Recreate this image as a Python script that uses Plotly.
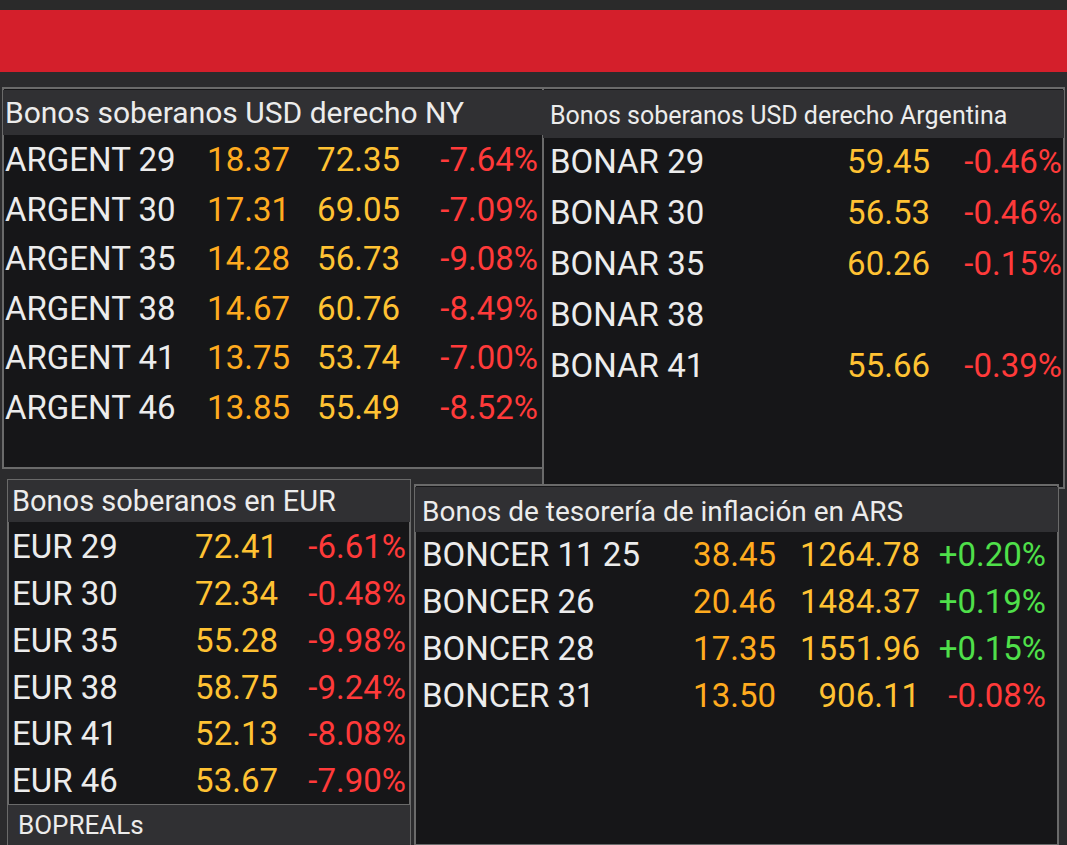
import plotly.graph_objects as go

ny_names = ["ARGENT 29","ARGENT 30","ARGENT 35","ARGENT 38","ARGENT 41","ARGENT 46"]
ny_yield = ["18.37","17.31","14.28","14.67","13.75","13.85"]
ny_price = ["72.35","69.05","56.73","60.76","53.74","55.49"]
ny_chg = ["-7.64%","-7.09%","-9.08%","-8.49%","-7.00%","-8.52%"]

ar_names = ["BONAR 29","BONAR 30","BONAR 35","BONAR 38","BONAR 41"]
ar_price = ["59.45","56.53","60.26","","55.66"]
ar_chg = ["-0.46%","-0.46%","-0.15%","","-0.39%"]

eur_names = ["EUR 29","EUR 30","EUR 35","EUR 38","EUR 41","EUR 46"]
eur_price = ["72.41","72.34","55.28","58.75","52.13","53.67"]
eur_chg = ["-6.61%","-0.48%","-9.98%","-9.24%","-8.08%","-7.90%"]

bc_names = ["BONCER 11 25","BONCER 26","BONCER 28","BONCER 31"]
bc_yield = ["38.45","20.46","17.35","13.50"]
bc_price = ["1264.78","1484.37","1551.96","906.11"]
bc_chg = ["+0.20%","+0.19%","+0.15%","-0.08%"]

headers = ["Bonos soberanos USD derecho NY","Bonos soberanos USD derecho Argentina",
           "Bonos soberanos en EUR","Bonos de tesorería de inflación en ARS","BOPREALs"]

W, H = 1067, 845
WHITE, ORANGE, YEL, RED, GREEN = "#ececec", "#ffab1f", "#ffc233", "#ff3a3a", "#4fe04a"
FONT = "Roboto"
DY = 5
fig = go.Figure()

shapes = [
    dict(type="rect", x0=0, x1=W, y0=0, y1=72, fillcolor="#d41f2b", line_width=0, layer="below"),
    dict(type="rect", x0=0, x1=W, y0=0, y1=10, fillcolor="#2a2a2a", line_width=0, layer="below"),
    dict(type="rect", x0=0, x1=W, y0=72, y1=H, fillcolor="#2b2b2d", line_width=0, layer="below"),
]
panels = [(3, 543, 88, 468), (543, 1064, 88, 488), (8, 410, 480, 805), (415, 1058, 485, 845), (8, 410, 805, 845)]
for x0, x1, y0, y1 in panels:
    shapes.append(dict(type="rect", x0=x0, x1=x1, y0=y0, y1=y1, fillcolor="#161618",
                       line=dict(color="#6a6a6a", width=2), layer="below"))
hdr = [(3, 543, 90, 135), (543, 1064, 90, 138), (8, 410, 480, 522), (415, 1058, 487, 532), (8, 410, 805, 845)]
for x0, x1, y0, y1 in hdr:
    shapes.append(dict(type="rect", x0=x0, x1=x1, y0=y0, y1=y1, fillcolor="#303033", line_width=0, layer="below"))

def col(xs, ys, texts, color, pos, size=33):
    fig.add_trace(go.Scatter(x=xs, y=[v + DY for v in ys], text=texts, mode="text", textposition=pos,
                             textfont=dict(family=FONT, size=size, color=color),
                             hoverinfo="skip", showlegend=False, cliponaxis=False))

hx = [5, 550, 12, 422, 18]
hy = [110, 113, 499, 509, 822]
hs = [30, 25, 29, 28, 26]
for i in range(5):
    col([hx[i]], [hy[i]], [headers[i]], WHITE, "middle right", hs[i])

y1 = [158 + 49.5 * i for i in range(len(ny_names))]
col([5]*6, y1, ny_names, WHITE, "middle right")
col([290]*6, y1, ny_yield, ORANGE, "middle left")
col([400]*6, y1, ny_price, YEL, "middle left")
col([538]*6, y1, ny_chg, RED, "middle left")

y2 = [160 + 51 * i for i in range(len(ar_names))]
col([550]*5, y2, ar_names, WHITE, "middle right")
col([930]*5, y2, ar_price, YEL, "middle left")
col([1062]*5, y2, ar_chg, RED, "middle left")

y3 = [545 + 46.8 * i for i in range(len(eur_names))]
col([12]*6, y3, eur_names, WHITE, "middle right")
col([278]*6, y3, eur_price, YEL, "middle left")
col([406]*6, y3, eur_chg, RED, "middle left")

y4 = [553 + 47 * i for i in range(len(bc_names))]
col([422]*4, y4, bc_names, WHITE, "middle right")
col([776]*4, y4, bc_yield, ORANGE, "middle left")
col([920]*4, y4, bc_price, YEL, "middle left")
col([1046]*4, y4, bc_chg, [GREEN if c.startswith("+") else RED for c in bc_chg], "middle left")

fig.update_layout(width=W, height=H, margin=dict(l=0, r=0, t=0, b=0),
                  paper_bgcolor="#1a1a1a", plot_bgcolor="#1a1a1a", shapes=shapes,
                  xaxis=dict(range=[0, W], visible=False, fixedrange=True),
                  yaxis=dict(range=[H, 0], visible=False, fixedrange=True))
fig.write_html("out.html", config={"displayModeBar": False},
               post_script="document.body.style.margin='0';document.body.style.overflow='hidden';")
